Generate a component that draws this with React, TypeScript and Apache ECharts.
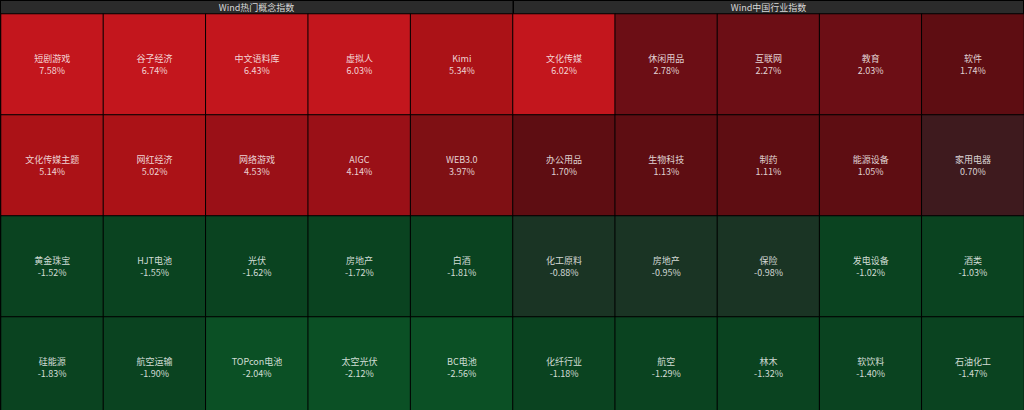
import React, { useEffect, useRef } from "react";
import * as echarts from "echarts";

const panelTitles = ["Wind热门概念指数", "Wind中国行业指数"];

const conceptNames = [
  "短剧游戏", "谷子经济", "中文语料库", "虚拟人", "Kimi",
  "文化传媒主题", "网红经济", "网络游戏", "AIGC", "WEB3.0",
  "黄金珠宝", "HJT电池", "光伏", "房地产", "白酒",
  "硅能源", "航空运输", "TOPcon电池", "太空光伏", "BC电池",
];
const conceptValues = [
  7.58, 6.74, 6.43, 6.03, 5.34,
  5.14, 5.02, 4.53, 4.14, 3.97,
  -1.52, -1.55, -1.62, -1.72, -1.81,
  -1.83, -1.90, -2.04, -2.12, -2.56,
];

const industryNames = [
  "文化传媒", "休闲用品", "互联网", "教育", "软件",
  "办公用品", "生物科技", "制药", "能源设备", "家用电器",
  "化工原料", "房地产", "保险", "发电设备", "酒类",
  "化纤行业", "航空", "林木", "软饮料", "石油化工",
];
const industryValues = [
  6.02, 2.78, 2.27, 2.03, 1.74,
  1.70, 1.13, 1.11, 1.05, 0.70,
  -0.88, -0.95, -0.98, -1.02, -1.03,
  -1.18, -1.29, -1.32, -1.40, -1.47,
];

const cols = ["c1", "c2", "c3", "c4", "c5"];
const rows = ["r1", "r2", "r3", "r4"];

function toData(names: string[], values: number[]) {
  return names.map((n, i) => ({
    name: n,
    value: [i % 5, Math.floor(i / 5), values[i]],
  }));
}

export default function App() {
  const ref = useRef<HTMLDivElement>(null);
  useEffect(() => {
    if (!ref.current) return;
    const chart = echarts.init(ref.current, null, { renderer: "svg" });
    const font = "'Noto Sans CJK SC', 'Microsoft YaHei', sans-serif";
    const headerH = 14;
    const rowH = 101;
    const grids = [
      { left: 1, top: headerH, width: 512, height: rowH * 4 },
      { left: 513, top: headerH, width: 511, height: rowH * 4 },
    ];
    const label = {
      show: true,
      color: "rgba(255,255,255,0.82)",
      fontSize: 9,
      lineHeight: 12,
      fontFamily: font,
      formatter: (p: any) => `${p.name}\n${Number(p.value[2]).toFixed(2)}%`,
    };
    const itemStyle = { borderColor: "#000", borderWidth: 1 };
    chart.setOption({
      animation: false,
      backgroundColor: "#000",
      grid: grids,
      xAxis: [0, 1].map((i) => ({
        type: "category",
        data: cols,
        gridIndex: i,
        show: false,
      })),
      yAxis: [0, 1].map((i) => ({
        type: "category",
        data: rows,
        gridIndex: i,
        inverse: true,
        show: false,
      })),
      visualMap: {
        type: "piecewise",
        show: false,
        dimension: 2,
        seriesIndex: [0, 1],
        pieces: [
          { min: 6, color: "#c3161d" },
          { min: 5, max: 6, color: "#ab1217" },
          { min: 4, max: 5, color: "#9a1017" },
          { min: 3, max: 4, color: "#7f1014" },
          { min: 2, max: 3, color: "#6c0e15" },
          { min: 1, max: 2, color: "#5e0d12" },
          { min: 0, max: 1, color: "#3e1a1e" },
          { min: -1, max: 0, color: "#1a3424" },
          { min: -2, max: -1, color: "#0a4320" },
          { max: -2, color: "#0b5025" },
        ],
      },
      series: [
        {
          type: "heatmap",
          xAxisIndex: 0,
          yAxisIndex: 0,
          data: toData(conceptNames, conceptValues),
          label,
          itemStyle,
          emphasis: { disabled: true },
        },
        {
          type: "heatmap",
          xAxisIndex: 1,
          yAxisIndex: 1,
          data: toData(industryNames, industryValues),
          label,
          itemStyle,
          emphasis: { disabled: true },
        },
      ],
      graphic: [
        {
          type: "rect",
          shape: { x: 0.5, y: 0.5, width: 512.5, height: headerH },
          style: { fill: "#2b2b2b", stroke: "#000", lineWidth: 1 },
        },
        {
          type: "rect",
          shape: { x: 513.5, y: 0.5, width: 510, height: headerH },
          style: { fill: "#2b2b2b", stroke: "#000", lineWidth: 1 },
        },
        {
          type: "text",
          x: 256.5,
          y: 7.5,
          style: {
            text: panelTitles[0],
            fill: "#d8d8d8",
            fontSize: 9,
            fontFamily: font,
            align: "center",
            verticalAlign: "middle",
          },
        },
        {
          type: "text",
          x: 768.5,
          y: 7.5,
          style: {
            text: panelTitles[1],
            fill: "#d8d8d8",
            fontSize: 9,
            fontFamily: font,
            align: "center",
            verticalAlign: "middle",
          },
        },
      ],
    });
    return () => chart.dispose();
  }, []);
  return (
    <div
      ref={ref}
      style={{ position: "fixed", left: 0, top: 0, width: 1024, height: 419 }}
    />
  );
}
